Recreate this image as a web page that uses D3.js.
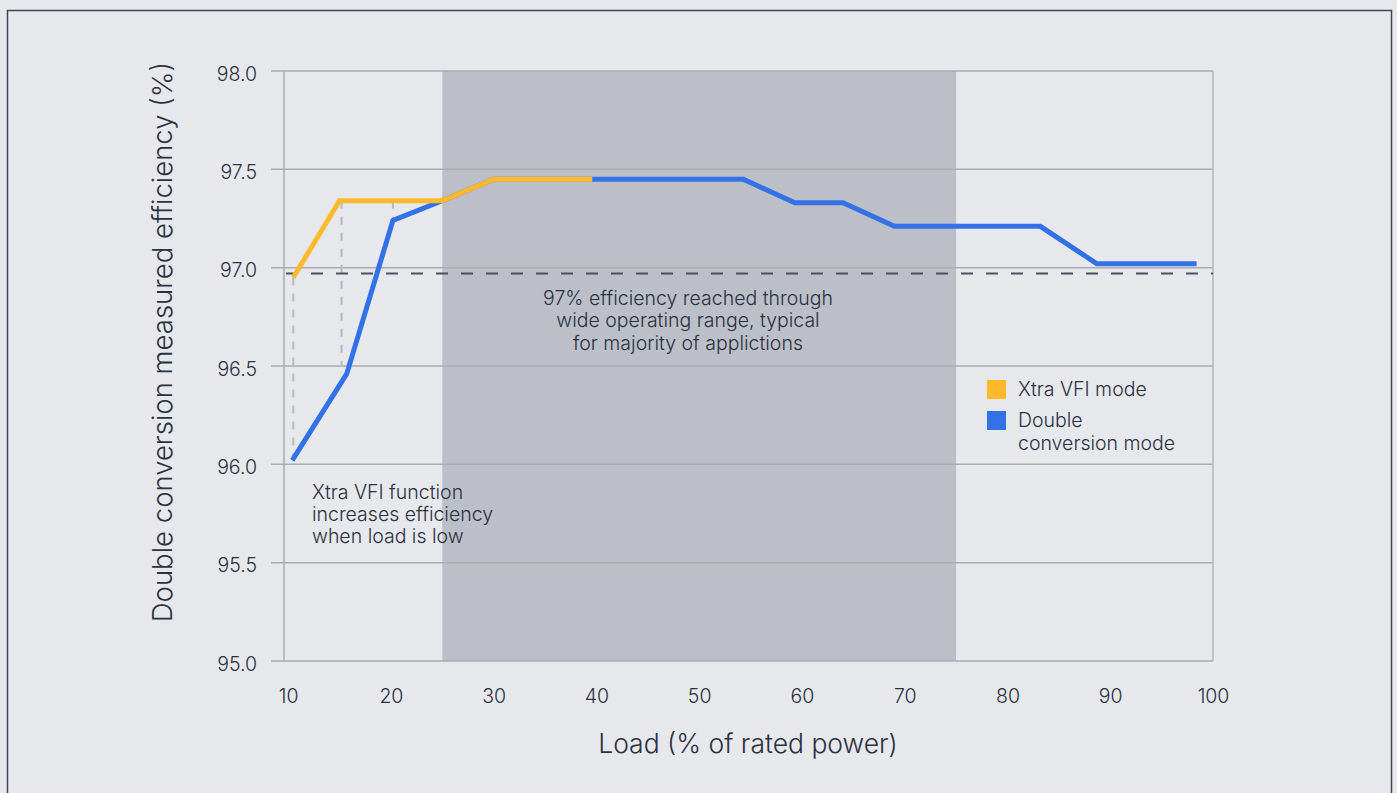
<!DOCTYPE html>
<html>
<head>
<meta charset="utf-8">
<script src="https://cdn.jsdelivr.net/npm/d3@7"></script>
<style>
  html, body { margin: 0; padding: 0; background: #e7e8ec; }
  svg { display: block; font-family: Inter, "Liberation Sans", sans-serif; font-weight: 300; }
  .tick text { fill: #2a3142; }
</style>
</head>
<body>
<svg id="chart" width="1397" height="793"></svg>
<script>
// data
const vfiLoad = [10.5, 15, 25, 30, 39.6];
const vfiEff = [96.95, 97.34, 97.34, 97.45, 97.45];
const dcLoad = [10.4, 15.7, 20.2, 25, 30, 54.3, 59.3, 64, 69, 83.2, 88.7, 98.4];
const dcEff = [96.02, 96.46, 97.24, 97.34, 97.45, 97.45, 97.33, 97.33, 97.21, 97.21, 97.02, 97.02];
const dropLoad = [10.5, 15.2, 20.2];
const dropTop = [96.95, 97.34, 97.34];
const dropBottom = [96.02, 96.5, 97.24];
const yTicks = [95.0, 95.5, 96.0, 96.5, 97.0, 97.5, 98.0];
const xTicks = [10, 20, 30, 40, 50, 60, 70, 80, 90, 100];
const bandRange = [25, 75];
const threshold = 96.97;

const svg = d3.select("#chart");
const textColor = "#2a3142";
const fontFamily = "Inter, sans-serif";

// outer frame
svg.append("rect")
  .attr("x", 7.5).attr("y", 10.5)
  .attr("width", 1384).attr("height", 800)
  .attr("fill", "none")
  .attr("stroke", "#3d4657")
  .attr("stroke-width", 1.5);

const x = d3.scaleLinear().domain([9.6, 100]).range([284, 1213]);
const y = d3.scaleLinear().domain([95, 98]).range([661, 71]);

// shaded operating range
svg.append("rect")
  .attr("x", x(bandRange[0]))
  .attr("y", y(98))
  .attr("width", x(bandRange[1]) - x(bandRange[0]))
  .attr("height", y(95) - y(98))
  .attr("fill", "#bcbfc7");

// horizontal grid
svg.append("g")
  .selectAll("line")
  .data(yTicks)
  .enter()
  .append("line")
  .attr("x1", 271)
  .attr("x2", x(100))
  .attr("y1", (d) => y(d))
  .attr("y2", (d) => y(d))
  .attr("stroke", "#a9abb3")
  .attr("stroke-width", 1.5);

// left and right frame lines of the plot
svg.append("line")
  .attr("x1", x(9.6)).attr("x2", x(9.6))
  .attr("y1", y(98)).attr("y2", y(95))
  .attr("stroke", "#a9abb3").attr("stroke-width", 1.5);
svg.append("line")
  .attr("x1", x(100)).attr("x2", x(100))
  .attr("y1", y(98)).attr("y2", y(95))
  .attr("stroke", "#b4b6bd").attr("stroke-width", 1.5);

// y axis labels
const yAxis = d3.axisLeft(y)
  .tickValues(yTicks)
  .tickFormat(d3.format(".1f"))
  .tickSize(0)
  .tickPadding(0);
svg.append("g")
  .attr("transform", "translate(257,3)")
  .call(yAxis)
  .call((g) => g.select(".domain").remove())
  .selectAll("text")
  .attr("font-size", 19.5)
  .attr("font-family", fontFamily)
  .attr("font-weight", 300);

// x axis labels
const xAxis = d3.axisBottom(x)
  .tickValues(xTicks)
  .tickSize(0)
  .tickPadding(0);
svg.append("g")
  .attr("transform", "translate(0,689)")
  .call(xAxis)
  .call((g) => g.select(".domain").remove())
  .selectAll("text")
  .attr("font-size", 19.5)
  .attr("font-family", fontFamily)
  .attr("font-weight", 300);

// axis titles
svg.append("text")
  .attr("x", 748)
  .attr("y", 753)
  .attr("text-anchor", "middle")
  .attr("font-size", 26.5)
  .attr("fill", textColor)
  .text("Load (% of rated power)");

svg.append("text")
  .attr("transform", "translate(172,342) rotate(-90)")
  .attr("text-anchor", "middle")
  .attr("font-size", 27.5)
  .attr("fill", textColor)
  .text("Double conversion measured efficiency (%)");

// drop lines between the modes
svg.append("g")
  .selectAll("line")
  .data(dropLoad)
  .enter()
  .append("line")
  .attr("x1", (d) => x(d))
  .attr("x2", (d) => x(d))
  .attr("y1", (d, i) => y(dropTop[i]))
  .attr("y2", (d, i) => y(dropBottom[i]))
  .attr("stroke", "#b6b8bf")
  .attr("stroke-width", 2)
  .attr("stroke-dasharray", "8,8");

// 97% threshold
svg.append("line")
  .attr("x1", x(9.6) + 2)
  .attr("x2", x(100))
  .attr("y1", y(threshold))
  .attr("y2", y(threshold))
  .attr("stroke", "#4b5162")
  .attr("stroke-width", 2)
  .attr("stroke-dasharray", "12,13");

const line = d3.line()
  .x((d) => x(d[0]))
  .y((d) => y(d[1]));

svg.append("path")
  .datum(dcLoad.map((d, i) => [d, dcEff[i]]))
  .attr("d", line)
  .attr("fill", "none")
  .attr("stroke", "#3371e6")
  .attr("stroke-width", 5);

svg.append("path")
  .datum(vfiLoad.map((d, i) => [d, vfiEff[i]]))
  .attr("d", line)
  .attr("fill", "none")
  .attr("stroke", "#ffb92d")
  .attr("stroke-width", 5);

// annotations
const note1 = ["97% efficiency reached through", "wide operating range, typical", "for majority of applictions"];
svg.append("text")
  .attr("text-anchor", "middle")
  .attr("font-size", 19.5)
  .attr("fill", textColor)
  .selectAll("tspan")
  .data(note1)
  .enter()
  .append("tspan")
  .attr("x", 688)
  .attr("y", (d, i) => 305 + i * 22.3)
  .text((d) => d);

const note2 = ["Xtra VFI function", "increases efficiency", "when load is low"];
svg.append("text")
  .attr("font-size", 19.5)
  .attr("fill", textColor)
  .selectAll("tspan")
  .data(note2)
  .enter()
  .append("tspan")
  .attr("x", 312)
  .attr("y", (d, i) => 499 + i * 22)
  .text((d) => d);

// legend
const legend = svg.append("g").attr("transform", "translate(987,380)");
legend.append("rect").attr("width", 19).attr("height", 19).attr("fill", "#ffb92d");
legend.append("rect").attr("y", 31).attr("width", 19).attr("height", 19).attr("fill", "#3371e6");
legend.append("text")
  .attr("x", 31).attr("y", 16)
  .attr("font-size", 19.5).attr("fill", textColor)
  .text("Xtra VFI mode");
legend.append("text")
  .attr("font-size", 19.5).attr("fill", textColor)
  .selectAll("tspan")
  .data(["Double", "conversion mode"])
  .enter()
  .append("tspan")
  .attr("x", 31)
  .attr("y", (d, i) => 47 + i * 23)
  .text((d) => d);
</script>
</body>
</html>
